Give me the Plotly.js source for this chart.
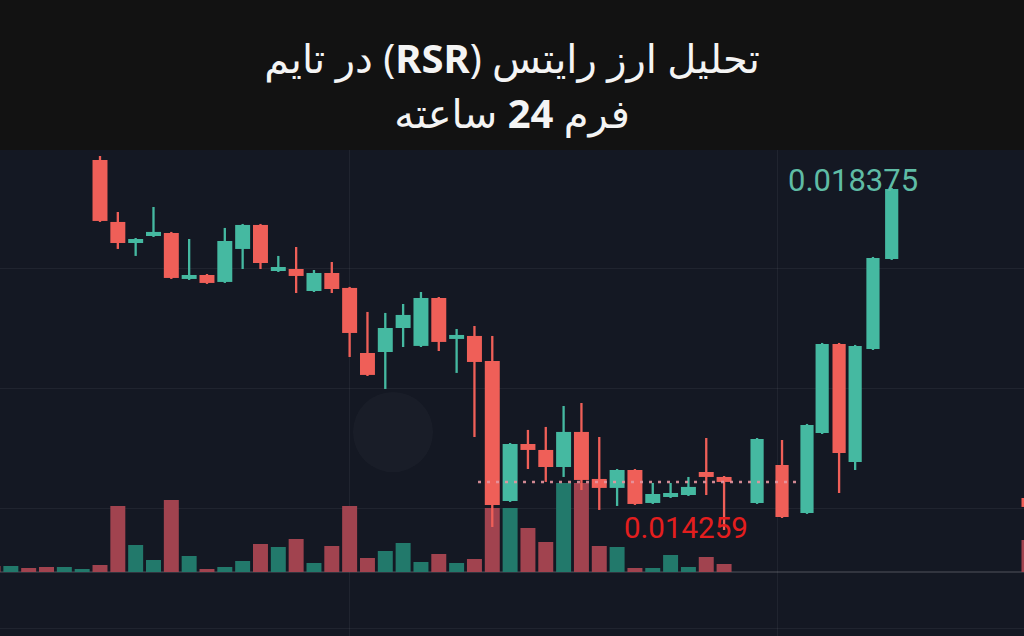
<!DOCTYPE html>
<html>
<head>
<meta charset="utf-8">
<script src="https://cdn.plot.ly/plotly-3.0.1.min.js"></script>
<style>
html,body{margin:0;padding:0;background:#121212;}
#chart{width:1024px;height:636px;}
</style>
</head>
<body>
<div id="chart"></div>
<script>
// ---- data ----
const candleX = [0,1,2,3,4,5,6,7,8,9,10,11,12,13,14,15,16,17,18,19,20,21,22,23,24,25,26,27,28,29,30,31,32,33,34,35,
                 36.85,38.25,39.65,40.5,41.45,42.35,43.35,44.4,52.1];
const openP  = [0.018712,0.017966,0.017713,0.017797,0.017833,0.017280,0.017328,0.017244,0.017641,0.017930,
                0.017376,0.017400,0.017135,0.017352,0.017172,0.016389,0.016401,0.016690,0.016474,0.017051,
                0.016558,0.016594,0.016293,0.014608,0.015294,0.015222,0.015017,0.015439,0.014873,0.014765,
                0.014981,0.014584,0.014656,0.014680,0.014957,0.014897,
                0.014584,0.015041,0.014464,0.015426,0.016498,0.015077,0.016437,0.017521,0.014644];
const highP  = [0.018760,0.018086,0.017773,0.018146,0.017846,0.017761,0.017340,0.017894,0.017942,0.017942,
                0.017557,0.017665,0.017388,0.017484,0.017184,0.016883,0.016871,0.016979,0.017123,0.017063,
                0.016678,0.016714,0.016594,0.015306,0.015463,0.015499,0.015751,0.015787,0.015378,0.014993,
                0.014993,0.014825,0.014825,0.014897,0.015366,0.014909,
                0.015366,0.015342,0.015535,0.016510,0.016510,0.016486,0.017545,0.018375,0.014656];
const lowP   = [0.017966,0.017641,0.017557,0.017785,0.017280,0.017268,0.017220,0.017232,0.017400,0.017400,
                0.017364,0.017111,0.017123,0.017111,0.016341,0.016112,0.015956,0.016461,0.016461,0.016413,
                0.016149,0.015378,0.014295,0.014596,0.014993,0.014837,0.014897,0.014740,0.014500,0.014548,
                0.014560,0.014572,0.014644,0.014668,0.014680,0.014259,
                0.014572,0.014403,0.014452,0.015414,0.014704,0.014981,0.016425,0.017509,0.014524];
const closeP = [0.017978,0.017713,0.017761,0.017846,0.017292,0.017328,0.017232,0.017737,0.017930,0.017472,
                0.017424,0.017316,0.017352,0.017159,0.016630,0.016125,0.016690,0.016847,0.017051,0.016522,
                0.016606,0.016281,0.014560,0.015294,0.015222,0.015017,0.015439,0.014861,0.014765,0.014981,
                0.014572,0.014692,0.014704,0.014777,0.014897,0.014837,
                0.015354,0.014415,0.015523,0.016498,0.015186,0.016474,0.017533,0.018363,0.014536];

const volumeX = [-6,-5,-4,-3,-2,-1,0,1,2,3,4,5,6,7,8,9,10,11,12,13,14,15,16,17,18,19,20,21,22,23,24,25,26,27,28,29,30,31,32,33,34,35,52.1];
const volume  = [6,6,4,5,5,3,7,66,27,12,72,16,3,5,11,28,25,33,9,26,66,14,21,29,10,18,9,13,64,64,44,30,89,89,26,25,4,4,17,5,15,8,32];
const volumeUp = [false,true,false,false,true,true,false,false,true,true,false,true,false,true,true,false,true,false,true,false,false,false,true,true,true,false,true,false,false,true,false,false,true,false,false,true,false,true,true,true,false,false,false];

const lastPrice = 0.014837;
const titleLine1 = 'تحلیل ارز رایتس (<b>RSR</b>) در تایم';
const titleLine2 = 'فرم <b>24</b> ساعته';

// ---- styles ----
const UP = '#45b9a1', DOWN = '#ef5f58';
const VOL_UP = '#22796b', VOL_DOWN = '#a1434f';
const BG = '#141823';

const isUp = openP.map((o, i) => closeP[i] >= o);
const colors = isUp.map(u => u ? UP : DOWN);
const bodyWidth = candleX.map(x => x > 36 && x < 50 ? 0.74 : 0.84);

const traces = [
  { type: 'bar', x: volumeX, y: volume, base: 0, yaxis: 'y', width: 0.84,
    marker: { color: volumeUp.map(u => u ? VOL_UP : VOL_DOWN), line: { width: 0 } },
    hoverinfo: 'skip', showlegend: false },
  { type: 'bar', x: candleX, y: highP.map((h, i) => h - lowP[i]), base: lowP, yaxis: 'y2', width: 0.13,
    marker: { color: colors, line: { width: 0 } }, hoverinfo: 'skip', showlegend: false },
  { type: 'bar', x: candleX, y: openP.map((o, i) => Math.abs(closeP[i] - o)),
    base: openP.map((o, i) => Math.min(o, closeP[i])), yaxis: 'y2', width: bodyWidth,
    marker: { color: colors, line: { width: 0 } }, hoverinfo: 'skip', showlegend: false }
];

// recent swing: the low of the range and the high of the rally after it
const rallyHigh = Math.max(...highP.filter((h, i) => candleX[i] > 36 && candleX[i] < 50));
const rangeLow = Math.min(...lowP);
const sp = s => '<span style="font-size:40px">\u202B' + s + '\u202C</span>';

const layout = {
  width: 1024, height: 636,
  margin: { l: 0, r: 0, t: 150, b: 0, pad: 0 },
  paper_bgcolor: '#121212',
  plot_bgcolor: BG,
  barmode: 'overlay',
  showlegend: false,
  title: {
    text: sp(titleLine1) + '<br>' + sp(titleLine2),
    font: { family: 'Noto Sans, DejaVu Sans, sans-serif', size: 42, color: '#f4f4f4' },
    x: 0.5, xanchor: 'center', xref: 'paper',
    y: 0.885, yanchor: 'middle', yref: 'container'
  },
  xaxis: { range: [-5.608, 51.82], showticklabels: false, zeroline: false,
           showgrid: true, gridcolor: 'rgba(255,255,255,0.055)', gridwidth: 1,
           tick0: 14, dtick: 24, ticks: '', showline: false, fixedrange: true },
  yaxis: { range: [-64, 422], showticklabels: false, showgrid: false,
           zeroline: true, zerolinecolor: 'rgba(255,255,255,0.13)', zerolinewidth: 2,
           ticks: '', showline: false, fixedrange: true },
  yaxis2: { range: [0.012983, 0.018832], overlaying: 'y', side: 'right',
            showticklabels: false, zeroline: false, showgrid: true,
            gridcolor: 'rgba(255,255,255,0.055)', gridwidth: 1,
            tick0: 0.0174, dtick: 0.0014442, ticks: '', showline: false, fixedrange: true },
  shapes: [
    { type: 'circle', xref: 'paper', yref: 'paper', x0: 0.3447, x1: 0.4229, y0: 0.337, y1: 0.502,
      fillcolor: 'rgba(255,255,255,0.025)', line: { width: 0 }, layer: 'below' },
    { type: 'line', xref: 'x', yref: 'y2', x0: 21.2, x1: 39.3, y0: lastPrice, y1: lastPrice,
      line: { color: 'rgba(230,150,160,0.9)', width: 2.5, dash: '3px,6px' }, layer: 'above' }
  ],
  annotations: [
    { text: rallyHigh.toFixed(6), xref: 'paper', yref: 'paper', x: 0.833, y: 0.938,
      xanchor: 'center', yanchor: 'middle', showarrow: false,
      font: { family: 'Roboto, sans-serif', size: 31, color: '#5fbca5' } },
    { text: rangeLow.toFixed(6), xref: 'paper', yref: 'paper', x: 0.670, y: 0.222,
      xanchor: 'center', yanchor: 'middle', showarrow: false,
      font: { family: 'Roboto, sans-serif', size: 29.5, color: '#e41e1e' } }
  ]
};

Plotly.newPlot('chart', traces, layout, { displayModeBar: false, staticPlot: true });
</script>
</body>
</html>
